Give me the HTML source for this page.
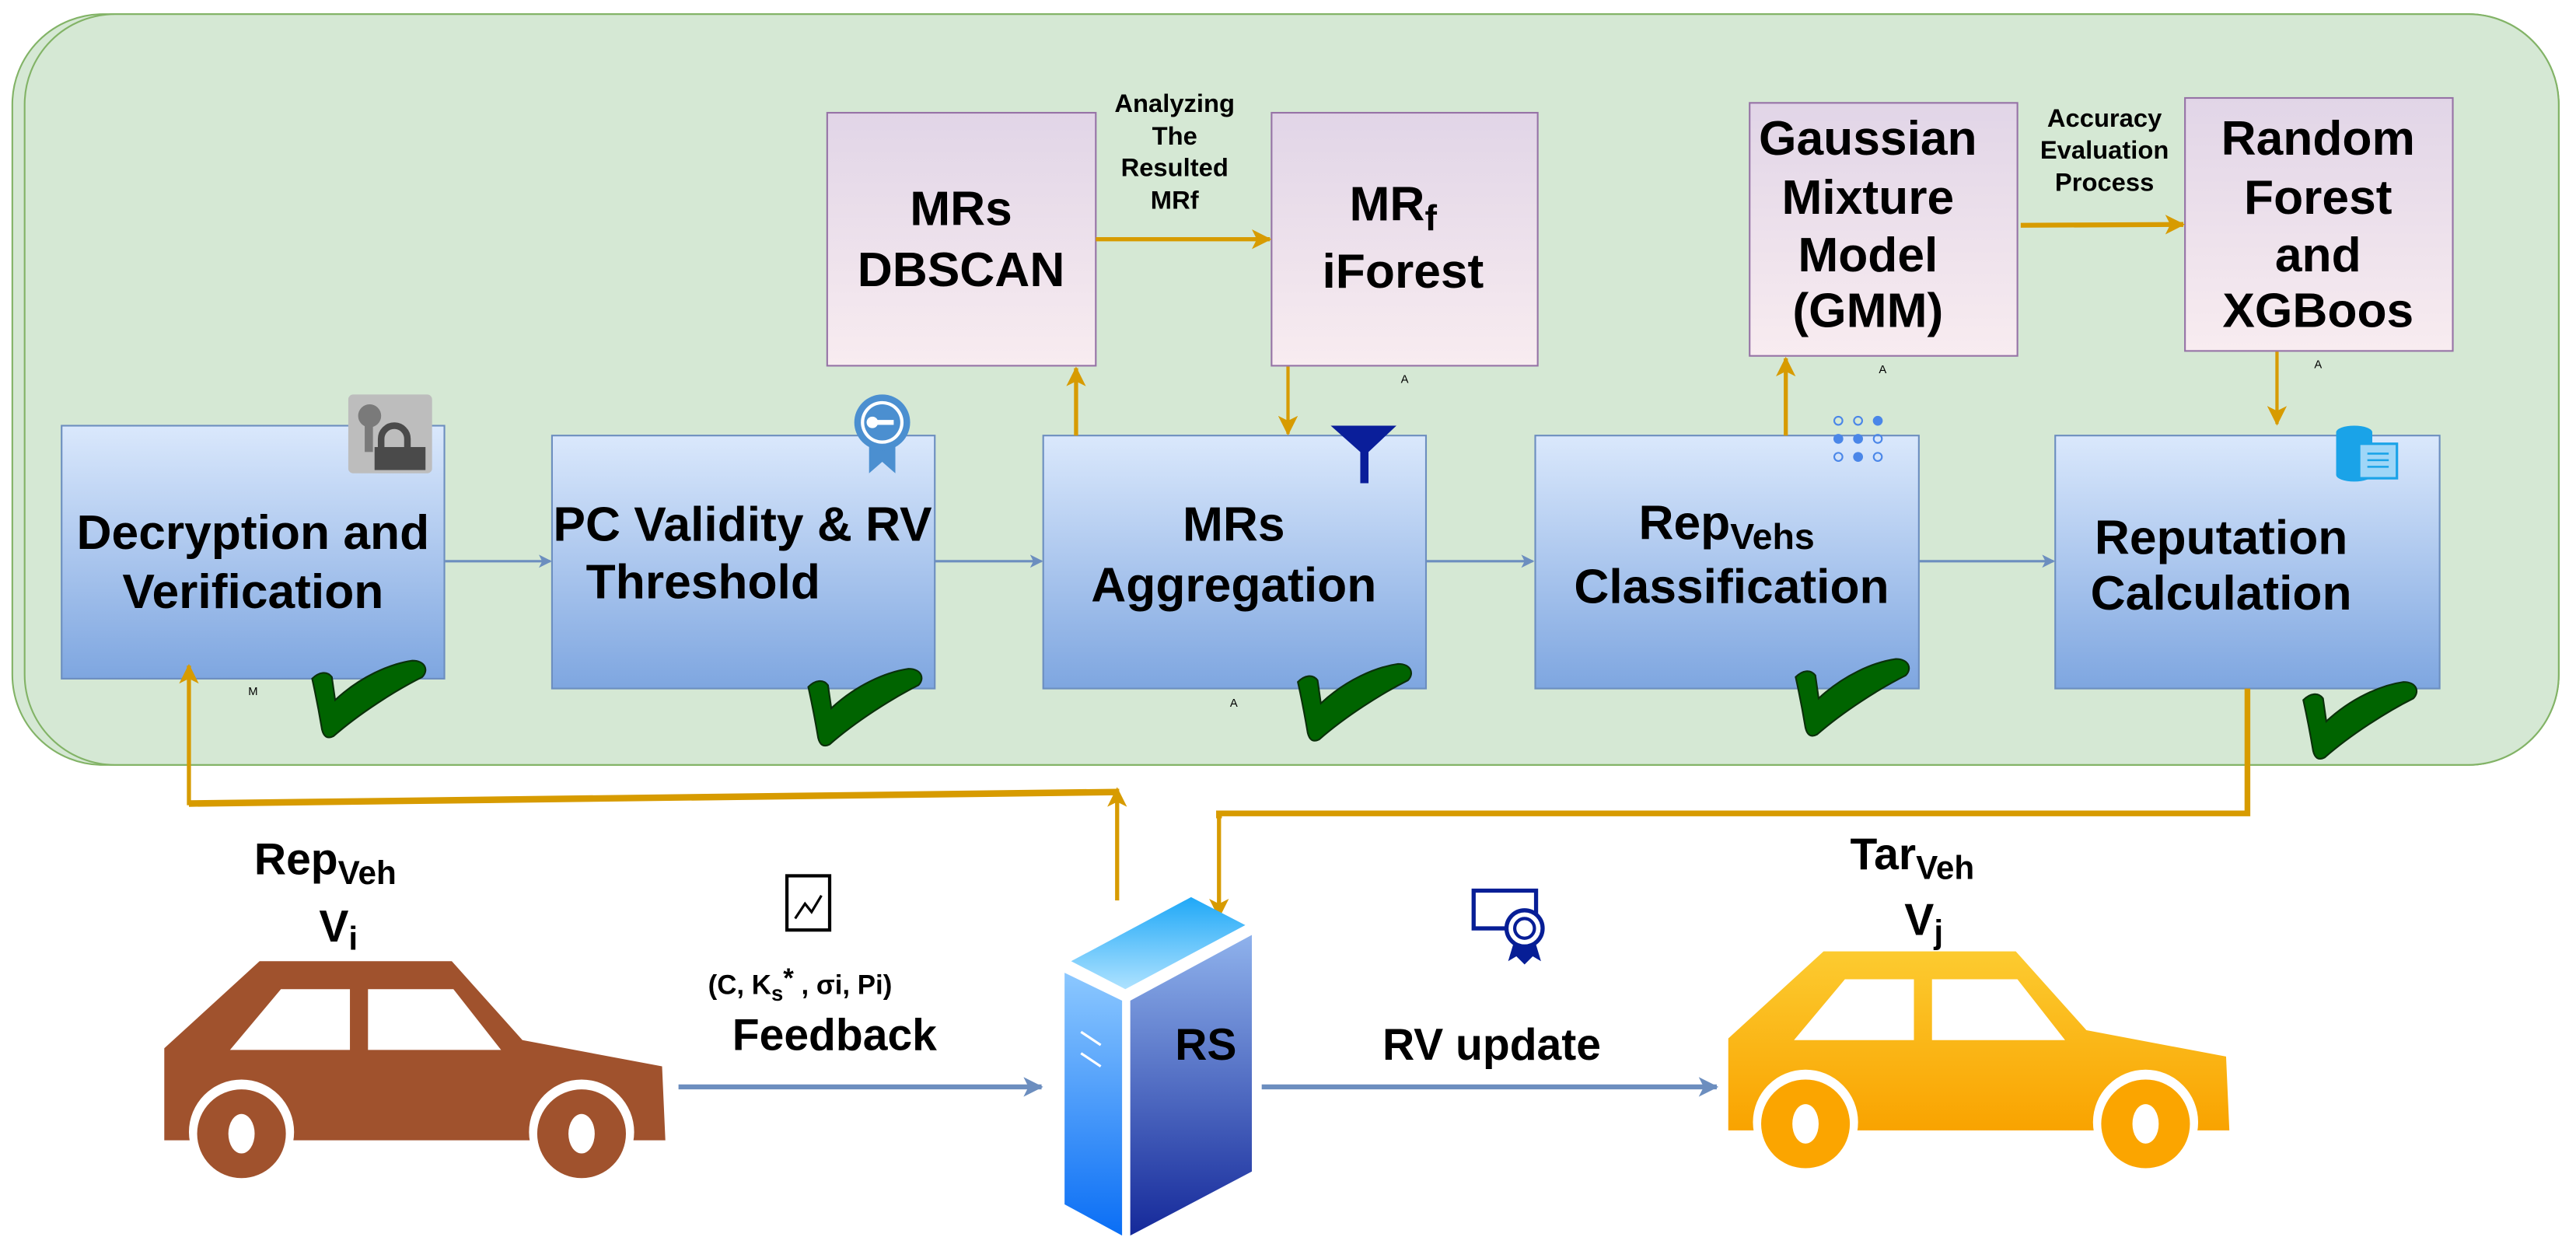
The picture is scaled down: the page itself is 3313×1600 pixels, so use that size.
<!DOCTYPE html>
<html><head><meta charset="utf-8"><style>
html,body{margin:0;padding:0;background:#fff;}
svg{display:block;}
text{font-family:"Liberation Sans",Arial,sans-serif;font-weight:bold;fill:#000;}
</style></head><body>
<svg width="3313" height="1600" viewBox="0 0 1568 757" xmlns="http://www.w3.org/2000/svg">
<defs>
<linearGradient id="bl" x1="0" y1="0" x2="0" y2="1"><stop offset="0" stop-color="#dae8fc"/><stop offset="1" stop-color="#7ea6e0"/></linearGradient>
<linearGradient id="pu" x1="0" y1="0" x2="0" y2="1"><stop offset="0" stop-color="#e1d5e7"/><stop offset="1" stop-color="#f8ecf0"/></linearGradient>
<linearGradient id="yc" x1="0" y1="0" x2="0" y2="1"><stop offset="0" stop-color="#fccb30"/><stop offset="1" stop-color="#f9a300"/></linearGradient>
<linearGradient id="sl" x1="0" y1="0" x2="0" y2="1"><stop offset="0" stop-color="#8cc8ff"/><stop offset="1" stop-color="#0a6ef5"/></linearGradient>
<linearGradient id="sr" x1="0" y1="0" x2="0" y2="1"><stop offset="0" stop-color="#8fb2ec"/><stop offset="1" stop-color="#15299a"/></linearGradient>
<linearGradient id="st" x1="0" y1="0" x2="0" y2="1"><stop offset="0" stop-color="#1fa8f7"/><stop offset="1" stop-color="#aee2ff"/></linearGradient>
<marker id="ob" markerWidth="8" markerHeight="8" refX="7" refY="4" orient="auto" markerUnits="userSpaceOnUse"><path d="M0,0 L8,4 L0,8 L2,4 Z" fill="#6c8ebf"/></marker>
<marker id="oo" markerWidth="12" markerHeight="12" refX="11" refY="6" orient="auto" markerUnits="userSpaceOnUse"><path d="M0,0 L12,6 L0,12 L3,6 Z" fill="#d79b00"/></marker>
<marker id="obb" markerWidth="12" markerHeight="12" refX="11" refY="6" orient="auto" markerUnits="userSpaceOnUse"><path d="M0,0 L12,6 L0,12 L3,6 Z" fill="#6c8ebf"/></marker>
<g id="tick"><path d="M1,9 C5,5 10,4 13,8 L15,22 C30,8 48,0 62,-2 C70,-2 72,4 68,8 C52,16 30,30 14,44 C10,46 8,44 7,40 C5,28 3,18 1,9 Z" fill="#006400" stroke="#0a300a" stroke-width="1"/></g>
</defs>

<!-- container -->
<rect x="7.5" y="8.5" width="1550" height="457" rx="55" fill="#d5e8d4" stroke="#82b366" stroke-width="1"/>
<rect x="15" y="8.5" width="1542.5" height="457" rx="55" fill="#d5e8d4" stroke="#82b366" stroke-width="1"/>

<!-- blue boxes -->
<rect x="37.5" y="259" width="233" height="154" fill="url(#bl)" stroke="#6c8ebf" stroke-width="1"/>
<rect x="336" y="265" width="233" height="154" fill="url(#bl)" stroke="#6c8ebf" stroke-width="1"/>
<rect x="635" y="265" width="233" height="154" fill="url(#bl)" stroke="#6c8ebf" stroke-width="1"/>
<rect x="934.5" y="265" width="233.5" height="154" fill="url(#bl)" stroke="#6c8ebf" stroke-width="1"/>
<rect x="1251" y="265" width="234" height="154" fill="url(#bl)" stroke="#6c8ebf" stroke-width="1"/>

<!-- purple boxes -->
<rect x="503.5" y="68.5" width="163.5" height="154" fill="url(#pu)" stroke="#9673a6" stroke-width="1"/>
<rect x="774" y="68.5" width="162" height="154" fill="url(#pu)" stroke="#9673a6" stroke-width="1"/>
<rect x="1065" y="62.5" width="163" height="154" fill="url(#pu)" stroke="#9673a6" stroke-width="1"/>
<rect x="1330" y="59.5" width="163" height="154" fill="url(#pu)" stroke="#9673a6" stroke-width="1"/>

<!-- blue connectors -->
<g stroke="#6c8ebf" stroke-width="1.5" fill="none">
<line x1="271" y1="341.5" x2="335" y2="341.5" marker-end="url(#ob)"/>
<line x1="569" y1="341.5" x2="634" y2="341.5" marker-end="url(#ob)"/>
<line x1="868" y1="341.5" x2="933" y2="341.5" marker-end="url(#ob)"/>
<line x1="1168" y1="341.5" x2="1250" y2="341.5" marker-end="url(#ob)"/>
</g>
<g stroke="#6c8ebf" stroke-width="3" fill="none">
<line x1="413" y1="661.5" x2="634" y2="661.5" marker-end="url(#obb)"/>
<line x1="768" y1="661.5" x2="1045" y2="661.5" marker-end="url(#obb)"/>
</g>

<!-- orange connectors -->
<g stroke="#d79b00" fill="none">
<line x1="655" y1="265" x2="655" y2="224" stroke-width="2.5" marker-end="url(#oo)"/>
<line x1="784" y1="223" x2="784" y2="264" stroke-width="2" marker-end="url(#oo)"/>
<line x1="667" y1="145.5" x2="773" y2="145.5" stroke-width="2.5" marker-end="url(#oo)"/>
<line x1="1087" y1="265" x2="1087" y2="218" stroke-width="2.5" marker-end="url(#oo)"/>
<line x1="1230" y1="137" x2="1329" y2="136.5" stroke-width="3" marker-end="url(#oo)"/>
<line x1="1386" y1="214" x2="1386" y2="258" stroke-width="2" marker-end="url(#oo)"/>
<line x1="115" y1="490" x2="115" y2="405" stroke-width="2.5" marker-end="url(#oo)"/>
<path d="M115,489 L680,482" stroke-width="4"/>
<line x1="680" y1="548" x2="680" y2="480" stroke-width="2.5" marker-end="url(#oo)"/>
<path d="M1368,419 L1368,495 L742,495 L742,498" stroke-width="3.5"/>
<line x1="742" y1="495" x2="742" y2="558" stroke-width="2.5" marker-end="url(#oo)"/>
</g>

<!-- box text -->
<g font-size="29.5" text-anchor="middle">
<text x="154" y="334">Decryption and</text>
<text x="154" y="370">Verification</text>
<text x="452" y="329">PC Validity &amp; RV</text>
<text x="428" y="364">Threshold</text>
<text x="751" y="329">MRs</text>
<text x="751" y="366">Aggregation</text>
<text x="1051" y="328">Rep<tspan font-size="22" dy="6">Vehs</tspan></text>
<text x="1054" y="367">Classification</text>
<text x="1352" y="337">Reputation</text>
<text x="1352" y="371">Calculation</text>
<text x="585" y="137">MRs</text>
<text x="585" y="174">DBSCAN</text>
<text x="848" y="134">MR<tspan font-size="22" dy="6">f</tspan></text>
<text x="854" y="175">iForest</text>
<text x="1137" y="94">Gaussian</text>
<text x="1137" y="130">Mixture</text>
<text x="1137" y="165">Model</text>
<text x="1137" y="199">(GMM)</text>
<text x="1411" y="94">Random</text>
<text x="1411" y="130">Forest</text>
<text x="1411" y="165">and</text>
<text x="1411" y="199">XGBoos</text>
</g>
<g font-size="15.5" text-anchor="middle">
<text x="715" y="68">Analyzing</text>
<text x="715" y="88">The</text>
<text x="715" y="107">Resulted</text>
<text x="715" y="127">MRf</text>
<text x="1281" y="77">Accuracy</text>
<text x="1281" y="96.5">Evaluation</text>
<text x="1281" y="116">Process</text>
</g>
<g font-size="7" text-anchor="middle">
<text x="154" y="423" style="font-weight:normal">M</text>
<text x="751" y="430" style="font-weight:normal">A</text>
<text x="855" y="233" style="font-weight:normal">A</text>
<text x="1146" y="227" style="font-weight:normal">A</text>
<text x="1411" y="224" style="font-weight:normal">A</text>
</g>

<!-- ticks -->
<use href="#tick" x="189" y="404"/>
<use href="#tick" x="491" y="409"/>
<use href="#tick" x="789" y="406"/>
<use href="#tick" x="1092" y="403"/>
<use href="#tick" x="1401" y="417"/>

<!-- icons -->
<rect x="212" y="240" width="51" height="48" rx="3" fill="#bdbdbd"/>
<circle cx="225" cy="253" r="7" fill="#7a7a7a"/><rect x="222" y="255" width="5" height="20" fill="#7a7a7a"/>
<path d="M232,273 v-6 a8,8 0 0 1 16,0 v6" stroke="#4a4a4a" stroke-width="4" fill="none"/>
<rect x="228" y="272" width="31" height="14" fill="#4a4a4a"/>
<path d="M529,268 L529,288 L537,281 L545,288 L545,268 Z" fill="#4b8fd0"/>
<circle cx="537" cy="257" r="17" fill="#4b8fd0"/><circle cx="537" cy="257" r="13" fill="#fff"/><circle cx="537" cy="257" r="11" fill="#4b8fd0"/>
<circle cx="531" cy="257" r="3.5" fill="#fff"/><rect x="532" y="255.5" width="12" height="3" fill="#fff"/>
<path d="M810,259 L850,259 L833,275 L833,294 L828,294 L828,275 Z" fill="#0a1e9a"/>
<g fill="#4a86e8">
<circle cx="1119" cy="256" r="2.5" fill="none" stroke="#4a86e8"/><circle cx="1131" cy="256" r="2.5" fill="none" stroke="#4a86e8"/><circle cx="1143" cy="256" r="3"/>
<circle cx="1119" cy="267" r="3"/><circle cx="1131" cy="267" r="3"/><circle cx="1143" cy="267" r="2.5" fill="none" stroke="#4a86e8"/>
<circle cx="1119" cy="278" r="2.5" fill="none" stroke="#4a86e8"/><circle cx="1131" cy="278" r="3"/><circle cx="1143" cy="278" r="2.5" fill="none" stroke="#4a86e8"/>
</g>
<path d="M1422,263 a11,4 0 0 1 22,0 v26 a11,4 0 0 1 -22,0 Z" fill="#1aa3e8"/>
<rect x="1436" y="270" width="23" height="21" fill="#9fd6f7" stroke="#1aa3e8" stroke-width="1.5"/>
<g stroke="#1aa3e8" stroke-width="1.2"><line x1="1441" y1="276" x2="1454" y2="276"/><line x1="1441" y1="280" x2="1454" y2="280"/><line x1="1441" y1="284" x2="1454" y2="284"/></g>

<!-- bottom icons -->
<rect x="479" y="533" width="26" height="33" fill="#fff" stroke="#000" stroke-width="2"/>
<path d="M484,559 L490,550 L494,555 L500,545" stroke="#000" stroke-width="1.5" fill="none"/>
<path d="M897,542 L935,542 L935,565 L897,565 Z" fill="none" stroke="#071e96" stroke-width="2.5"/>
<circle cx="928" cy="565" r="11" fill="#fff" stroke="#071e96" stroke-width="2.5"/><circle cx="928" cy="565" r="6" fill="none" stroke="#071e96" stroke-width="2"/>
<path d="M921,575 L918,585 L923,582 L928,587 L933,582 L938,585 L935,575 Z" fill="#071e96"/>

<!-- cars -->
<path d="M158,585 L275,585 L318,633 L403,649 L405,694 L100,694 L100,638 Z" fill="#a0522d"/>
<g fill="#fff">
<path d="M171,602 L213,602 L213,639 L140,639 Z"/><path d="M224,602 L276,602 L305,639 L224,639 Z"/>
<circle cx="147" cy="689" r="32"/><circle cx="354" cy="689" r="32"/>
</g>
<g fill="#a0522d"><circle cx="147" cy="690" r="27"/><circle cx="354" cy="690" r="27"/></g>
<g fill="#fff"><ellipse cx="147" cy="690" rx="8" ry="12"/><ellipse cx="354" cy="690" rx="8" ry="12"/></g>

<g transform="translate(952,-6)">
<path d="M158,585 L275,585 L318,633 L403,649 L405,694 L100,694 L100,638 Z" fill="url(#yc)"/>
<g fill="#fff">
<path d="M171,602 L213,602 L213,639 L140,639 Z"/><path d="M224,602 L276,602 L305,639 L224,639 Z"/>
<circle cx="147" cy="689" r="32"/><circle cx="354" cy="689" r="32"/>
</g>
<g fill="#fba500"><circle cx="147" cy="690" r="27"/><circle cx="354" cy="690" r="27"/></g>
<g fill="#fff"><ellipse cx="147" cy="690" rx="8" ry="12"/><ellipse cx="354" cy="690" rx="8" ry="12"/></g>
</g>

<!-- server -->
<path d="M725,546 L758,563 L685,602 L652,585 Z" fill="url(#st)"/>
<path d="M648,592 L683,609 L683,752 L648,733 Z" fill="url(#sl)"/>
<path d="M688,609 L762,569 L762,713 L688,752 Z" fill="url(#sr)"/>
<g stroke="#fff" stroke-width="1.5"><line x1="658" y1="628" x2="670" y2="636"/><line x1="658" y1="641" x2="670" y2="649"/></g>

<!-- bottom text -->
<g text-anchor="middle">
<text x="198" y="532" font-size="27">Rep<tspan font-size="20" dy="6">Veh</tspan></text>
<text x="206" y="573" font-size="27">V<tspan font-size="20" dy="5">i</tspan></text>
<text x="1164" y="529" font-size="27">Tar<tspan font-size="20" dy="6">Veh</tspan></text>
<text x="1171" y="569" font-size="27">V<tspan font-size="20" dy="5">j</tspan></text>
<text x="487" y="605" font-size="16.5">(C, K<tspan font-size="13" dy="4">s</tspan><tspan dy="-8">*</tspan><tspan dy="4"> , σi, Pi)</tspan></text>
<text x="508" y="639" font-size="27">Feedback</text>
<text x="734" y="645" font-size="27">RS</text>
<text x="908" y="645" font-size="27">RV update</text>
</g>
</svg>
</body></html>
